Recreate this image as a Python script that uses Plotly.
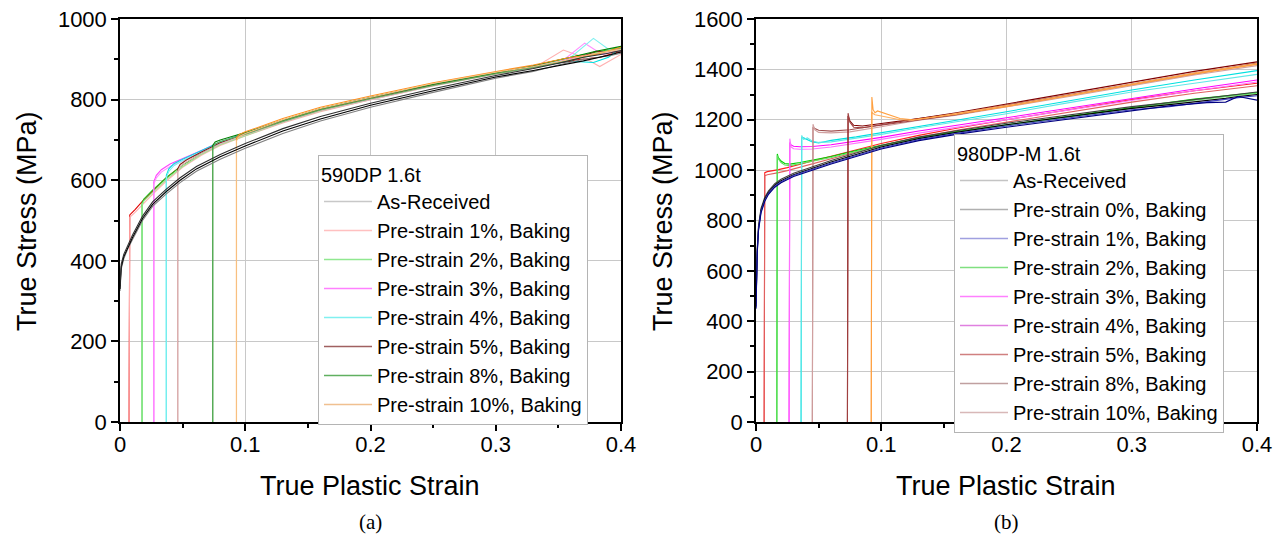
import plotly.graph_objects as go

# ---------------- 590DP 1.6t : true stress (MPa) vs true plastic strain ----------------
s590_ar = [0, 0.001, 0.003, 0.006, 0.01, 0.018, 0.026, 0.037, 0.048, 0.061, 0.08, 0.1, 0.13, 0.16, 0.2, 0.25, 0.3, 0.33, 0.35, 0.37, 0.39, 0.4]
ar590_a = [330, 385, 410, 432, 458, 505, 540, 572, 600, 628, 658, 685, 722, 752, 786, 822, 856, 872, 884, 896, 910, 918]
ar590_b = [340, 392, 416, 438, 464, 511, 546, 578, 606, 634, 664, 691, 728, 758, 791, 827, 860, 877, 890, 905, 915, 922]
ar590_c = [325, 380, 405, 428, 453, 500, 535, 566, 594, 622, 652, 679, 716, 747, 781, 818, 853, 870, 886, 900, 908, 915]

s590_p1 = [0.0072, 0.0072, 0.0078, 0.012, 0.018, 0.026, 0.037, 0.05, 0.065, 0.08, 0.1, 0.13, 0.16, 0.2, 0.25, 0.3, 0.33, 0.354, 0.37, 0.383, 0.4]
p1_590_a = [0, 500, 508, 520, 540, 565, 598, 632, 662, 686, 710, 742, 770, 800, 834, 865, 878, 923, 905, 882, 912]
p1_590_b = [0, 506, 514, 527, 548, 573, 606, 638, 667, 690, 714, 746, 774, 803, 836, 866, 880, 895, 900, 905, 920]

s590_p2 = [0.0176, 0.0176, 0.019, 0.026, 0.037, 0.05, 0.065, 0.08, 0.1, 0.13, 0.16, 0.2, 0.25, 0.3, 0.33, 0.36, 0.38, 0.4]
p2_590_a = [0, 538, 548, 570, 602, 634, 664, 688, 711, 744, 772, 801, 835, 864, 878, 898, 912, 925]
p2_590_b = [0, 544, 553, 575, 606, 638, 667, 691, 714, 747, 775, 804, 837, 866, 884, 905, 918, 930]

s590_p3 = [0.027, 0.027, 0.029, 0.033, 0.04, 0.05, 0.065, 0.08, 0.1, 0.13, 0.16, 0.2, 0.25, 0.3, 0.33, 0.355, 0.371, 0.385, 0.4]
p3_590_a = [0, 590, 606, 620, 634, 648, 670, 692, 714, 746, 774, 802, 836, 865, 880, 900, 940, 912, 922]
p3_590_b = [0, 596, 612, 626, 640, 653, 674, 695, 717, 749, 777, 805, 838, 867, 884, 898, 910, 915, 926]

s590_p4 = [0.037, 0.037, 0.039, 0.043, 0.05, 0.065, 0.08, 0.1, 0.13, 0.16, 0.2, 0.25, 0.3, 0.33, 0.36, 0.378, 0.39, 0.4]
p4_590_a = [0, 606, 622, 636, 648, 670, 692, 714, 746, 774, 802, 836, 865, 880, 905, 952, 925, 920]
p4_590_b = [0, 612, 628, 641, 652, 673, 695, 717, 749, 777, 805, 838, 867, 882, 895, 892, 905, 928]

s590_p5 = [0.046, 0.046, 0.048, 0.053, 0.065, 0.08, 0.1, 0.13, 0.16, 0.2, 0.25, 0.3, 0.33, 0.36, 0.38, 0.4]
p5_590_a = [0, 622, 634, 645, 666, 690, 712, 744, 772, 800, 834, 863, 878, 900, 912, 924]
p5_590_b = [0, 628, 639, 650, 670, 693, 715, 747, 775, 803, 836, 865, 882, 895, 920, 918]

s590_p8 = [0.074, 0.074, 0.076, 0.08, 0.09, 0.1, 0.13, 0.16, 0.2, 0.25, 0.3, 0.33, 0.36, 0.38, 0.4]
p8_590_a = [0, 680, 690, 696, 705, 714, 746, 774, 802, 835, 864, 880, 898, 915, 928]
p8_590_b = [0, 686, 695, 700, 709, 718, 749, 777, 805, 838, 866, 884, 905, 920, 932]

s590_p10 = [0.093, 0.093, 0.095, 0.1, 0.11, 0.13, 0.16, 0.2, 0.25, 0.3, 0.33, 0.36, 0.38, 0.4]
p10_590_a = [0, 698, 708, 716, 727, 750, 778, 806, 840, 868, 882, 900, 915, 925]
p10_590_b = [0, 704, 713, 720, 731, 753, 781, 809, 842, 870, 886, 905, 912, 930]

# ---------------- 980DP-M 1.6t ----------------
s980_ar = [0, 0.0005, 0.001, 0.002, 0.004, 0.007, 0.01, 0.015, 0.02, 0.03, 0.045, 0.06, 0.08, 0.1, 0.13, 0.16, 0.2, 0.25, 0.3, 0.33, 0.36, 0.375, 0.385, 0.4]
ar980_a = [460, 600, 680, 770, 840, 885, 912, 940, 958, 982, 1008, 1032, 1062, 1092, 1125, 1150, 1180, 1213, 1245, 1260, 1275, 1285, 1292, 1300]
ar980_b = [470, 610, 690, 780, 848, 892, 918, 946, 964, 988, 1014, 1038, 1068, 1098, 1131, 1156, 1186, 1220, 1252, 1268, 1285, 1295, 1300, 1310]
b0_980_a = [450, 590, 670, 760, 830, 876, 904, 932, 950, 975, 1000, 1024, 1054, 1084, 1117, 1142, 1170, 1203, 1238, 1255, 1268, 1270, 1292, 1278]
b0_980_b = [455, 595, 675, 765, 835, 880, 908, 936, 954, 979, 1004, 1028, 1058, 1088, 1121, 1146, 1175, 1208, 1240, 1252, 1272, 1282, 1288, 1295]

s980_p1 = [0.0065, 0.0065, 0.007, 0.009, 0.013, 0.018, 0.025, 0.035, 0.045, 0.06, 0.08, 0.1, 0.13, 0.16, 0.2, 0.25, 0.3, 0.35, 0.4]
p1_980_a = [0, 965, 978, 982, 985, 990, 998, 1012, 1025, 1045, 1072, 1098, 1130, 1158, 1190, 1232, 1270, 1305, 1335]
p1_980_b = [0, 975, 990, 994, 997, 1002, 1010, 1024, 1036, 1055, 1082, 1106, 1138, 1166, 1200, 1240, 1280, 1315, 1345]

s980_p2 = [0.0166, 0.0166, 0.017, 0.0178, 0.02, 0.023, 0.027, 0.035, 0.045, 0.06, 0.08, 0.1, 0.13, 0.16, 0.2, 0.25, 0.3, 0.35, 0.4]
p2_980_a = [0, 990, 1058, 1045, 1030, 1020, 1018, 1025, 1035, 1050, 1074, 1096, 1126, 1150, 1178, 1212, 1245, 1278, 1305]
p2_980_b = [0, 1000, 1064, 1050, 1036, 1026, 1024, 1030, 1040, 1054, 1078, 1099, 1129, 1153, 1181, 1215, 1248, 1282, 1308]

s980_p3 = [0.0264, 0.0264, 0.027, 0.028, 0.03, 0.035, 0.045, 0.06, 0.08, 0.1, 0.13, 0.16, 0.2, 0.25, 0.3, 0.35, 0.4]
p3_980_a = [0, 1000, 1125, 1092, 1085, 1083, 1084, 1092, 1106, 1122, 1147, 1170, 1200, 1240, 1278, 1315, 1350]
p3_980_b = [0, 1010, 1110, 1100, 1095, 1093, 1094, 1101, 1114, 1130, 1155, 1178, 1208, 1248, 1286, 1322, 1358]

s980_p4 = [0.036, 0.036, 0.0365, 0.038, 0.041, 0.045, 0.05, 0.06, 0.08, 0.1, 0.13, 0.16, 0.2, 0.25, 0.3, 0.35, 0.4]
p4_980_a = [0, 1050, 1138, 1122, 1128, 1115, 1110, 1112, 1126, 1142, 1168, 1192, 1224, 1268, 1310, 1345, 1380]
p4_980_b = [0, 1060, 1130, 1128, 1120, 1112, 1108, 1118, 1132, 1148, 1174, 1198, 1232, 1276, 1318, 1358, 1395]

s980_p5 = [0.045, 0.045, 0.0455, 0.047, 0.05, 0.06, 0.075, 0.1, 0.13, 0.16, 0.2, 0.25, 0.3, 0.35, 0.4]
p5_980_a = [0, 1080, 1182, 1160, 1150, 1148, 1152, 1172, 1198, 1218, 1250, 1292, 1335, 1378, 1415]
p5_980_b = [0, 1090, 1170, 1165, 1158, 1155, 1160, 1180, 1205, 1225, 1258, 1300, 1342, 1385, 1422]

s980_p8 = [0.073, 0.073, 0.0735, 0.075, 0.078, 0.085, 0.1, 0.13, 0.16, 0.2, 0.25, 0.3, 0.35, 0.4]
p8_980_a = [0, 1100, 1226, 1190, 1170, 1168, 1178, 1198, 1220, 1255, 1298, 1342, 1385, 1425]
p8_980_b = [0, 1110, 1215, 1195, 1178, 1175, 1184, 1205, 1228, 1262, 1305, 1350, 1392, 1430]

s980_p10 = [0.092, 0.092, 0.0925, 0.0935, 0.095, 0.097, 0.105, 0.115, 0.125, 0.16, 0.2, 0.25, 0.3, 0.35, 0.4]
p10_980_a = [0, 1150, 1290, 1240, 1228, 1235, 1222, 1205, 1200, 1222, 1252, 1295, 1340, 1382, 1420]
p10_980_b = [0, 1160, 1230, 1225, 1220, 1218, 1210, 1200, 1198, 1225, 1256, 1298, 1342, 1385, 1423]

# legend entries: (label, key colour)
legend_590 = [
    ("As-Received", "#C8C8C8"),
    ("Pre-strain 1%, Baking", "#FFC0C0"),
    ("Pre-strain 2%, Baking", "#90E890"),
    ("Pre-strain 3%, Baking", "#FF80FF"),
    ("Pre-strain 4%, Baking", "#80F0F0"),
    ("Pre-strain 5%, Baking", "#A06060"),
    ("Pre-strain 8%, Baking", "#60B060"),
    ("Pre-strain 10%, Baking", "#F0C090"),
]
legend_980 = [
    ("As-Received", "#C4C4C4"),
    ("Pre-strain 0%, Baking", "#B0B0B0"),
    ("Pre-strain 1%, Baking", "#A0A0E0"),
    ("Pre-strain 2%, Baking", "#80E080"),
    ("Pre-strain 3%, Baking", "#FF80FF"),
    ("Pre-strain 4%, Baking", "#E080E0"),
    ("Pre-strain 5%, Baking", "#D08080"),
    ("Pre-strain 8%, Baking", "#C0A0A0"),
    ("Pre-strain 10%, Baking", "#D8B8B8"),
]

# specimen curves: (strain, stress, colour)
curves_590 = [
    (s590_p1, p1_590_b, "#E00000"), (s590_p1, p1_590_a, "#FFB0B0"),
    (s590_p2, p2_590_b, "#20C020"), (s590_p2, p2_590_a, "#90EE90"),
    (s590_p3, p3_590_b, "#FF40FF"), (s590_p3, p3_590_a, "#FF90FF"),
    (s590_p4, p4_590_b, "#00E0E0"), (s590_p4, p4_590_a, "#80F0F0"),
    (s590_p5, p5_590_b, "#8B1A1A"), (s590_p5, p5_590_a, "#E0B8B8"),
    (s590_p8, p8_590_b, "#008000"), (s590_p8, p8_590_a, "#60B060"),
    (s590_p10, p10_590_b, "#FF9020"), (s590_p10, p10_590_a, "#F8C080"),
    (s590_ar, ar590_c, "#808080"), (s590_ar, ar590_a, "#000000"), (s590_ar, ar590_b, "#303030"),
]
curves_980 = [
    (s980_p1, p1_980_b, "#FF2020"), (s980_p1, p1_980_a, "#E06060"),
    (s980_p2, p2_980_b, "#00D000"), (s980_p2, p2_980_a, "#60E060"),
    (s980_p3, p3_980_b, "#FF00FF"), (s980_p3, p3_980_a, "#FF70FF"),
    (s980_p4, p4_980_b, "#00E0E0"), (s980_p4, p4_980_a, "#60E8E8"),
    (s980_p5, p5_980_b, "#A05050"), (s980_p5, p5_980_a, "#D0A0A0"),
    (s980_p8, p8_980_b, "#800000"), (s980_p8, p8_980_a, "#A04040"),
    (s980_p10, p10_980_b, "#FFB060"), (s980_p10, p10_980_a, "#FFA040"),
    (s980_ar, ar980_b, "#404040"), (s980_ar, ar980_a, "#000000"),
    (s980_ar, b0_980_b, "#4040C0"), (s980_ar, b0_980_a, "#000080"),
]

FONT = "Liberation Sans, Arial, sans-serif"
W, H = 1283, 540

fig = go.Figure()

for xs, ys, col in curves_590:
    fig.add_trace(go.Scatter(x=xs, y=ys, mode="lines", line=dict(color=col, width=1.1),
                             xaxis="x", yaxis="y", showlegend=False, hoverinfo="skip"))
for xs, ys, col in curves_980:
    fig.add_trace(go.Scatter(x=xs, y=ys, mode="lines", line=dict(color=col, width=1.1),
                             xaxis="x2", yaxis="y2", showlegend=False, hoverinfo="skip"))

for name, col in legend_590:
    fig.add_trace(go.Scatter(x=[None], y=[None], mode="lines", name=name, line=dict(color=col, width=1.5),
                             xaxis="x", yaxis="y", legend="legend"))
for name, col in legend_980:
    fig.add_trace(go.Scatter(x=[None], y=[None], mode="lines", name=name, line=dict(color=col, width=1.5),
                             xaxis="x2", yaxis="y2", legend="legend2"))

ydom = [1 - 422 / H, 1 - 19 / H]
dom_a = [120 / W, 621 / W]
dom_b = [756 / W, 1257 / W]


def main_x(dom, anchor):
    return dict(domain=dom, anchor=anchor, range=[0, 0.4], tick0=0, dtick=0.1, automargin=False,
                ticks="outside", ticklen=7, tickwidth=1.5, tickcolor="black", ticklabelstandoff=-5,
                minor=dict(ticks="outside", dtick=0.05, ticklen=4, tickwidth=1.5, tickcolor="black", showgrid=False),
                showline=True, linecolor="black", linewidth=1.5, mirror=True,
                showgrid=True, gridcolor="#C8C8C8", gridwidth=1, zeroline=False,
                tickfont=dict(family=FONT, size=22, color="black"))


def main_y(dom, anchor, top):
    return dict(domain=dom, anchor=anchor, range=[0, top], tick0=0, dtick=200, automargin=False,
                ticks="outside", ticklen=7, tickwidth=1.5, tickcolor="black",
                minor=dict(ticks="outside", dtick=100, ticklen=4, tickwidth=1.5, tickcolor="black", showgrid=False),
                showline=True, linecolor="black", linewidth=1.5, mirror=True,
                showgrid=True, gridcolor="#C8C8C8", gridwidth=1, zeroline=False,
                tickfont=dict(family=FONT, size=22, color="black"))


def top_x(over, anchor):
    return dict(overlaying=over, anchor=anchor, side="top", range=[0, 0.4], tick0=0, dtick=0.1, automargin=False,
                ticks="inside", ticklen=7, tickwidth=1.5, tickcolor="black",
                minor=dict(ticks="inside", dtick=0.05, ticklen=4, tickwidth=1.5, tickcolor="black", showgrid=False),
                showticklabels=False, showgrid=False, showline=False, zeroline=False)


def right_y(over, anchor, top):
    return dict(overlaying=over, anchor=anchor, side="right", range=[0, top], tick0=0, dtick=200, automargin=False,
                ticks="inside", ticklen=7, tickwidth=1.5, tickcolor="black",
                minor=dict(ticks="inside", dtick=100, ticklen=4, tickwidth=1.5, tickcolor="black", showgrid=False),
                showticklabels=False, showgrid=False, showline=False, zeroline=False)


legend_common = dict(xanchor="left", yanchor="top", bgcolor="white", bordercolor="#B4B4B4", borderwidth=1,
                     font=dict(family=FONT, size=20, color="black"), tracegroupgap=0, itemclick=False,
                     itemwidth=48)

fig.update_layout(
    width=W, height=H, margin=dict(l=0, r=0, t=0, b=0, pad=0, autoexpand=False),
    paper_bgcolor="white", plot_bgcolor="white",
    font=dict(family=FONT, color="black"),
    xaxis=main_x(dom_a, "y"), yaxis=main_y(ydom, "x", 1000),
    xaxis2=main_x(dom_b, "y2"), yaxis2=main_y(ydom, "x2", 1600),
    xaxis3=top_x("x", "y"), yaxis3=right_y("y", "x", 1000),
    xaxis4=top_x("x2", "y2"), yaxis4=right_y("y2", "x2", 1600),
    legend=dict(x=318 / W, y=1 - 155 / H, title=dict(text="590DP 1.6t", font=dict(family=FONT, size=20)), **legend_common),
    legend2=dict(x=954 / W, y=1 - 134 / H, title=dict(text="980DP-M 1.6t", font=dict(family=FONT, size=20)), **legend_common),
)

# axis titles and panel captions
ann = []
for cx in (370, 1006):
    ann.append(dict(x=cx / W, y=1 - 486 / H, xref="paper", yref="paper", xanchor="center", yanchor="middle",
                    text="True Plastic Strain", showarrow=False, font=dict(family=FONT, size=27, color="black")))
for cx in (27, 663):
    ann.append(dict(x=cx / W, y=1 - 221 / H, xref="paper", yref="paper", xanchor="center", yanchor="middle",
                    text="True Stress (MPa)", textangle=-90, showarrow=False,
                    font=dict(family=FONT, size=27, color="black")))
for cx, lab in ((370, "(a)"), (1006, "(b)")):
    ann.append(dict(x=cx / W, y=1 - 522 / H, xref="paper", yref="paper", xanchor="center", yanchor="middle",
                    text=lab, showarrow=False, font=dict(family="Liberation Serif, serif", size=21, color="black")))
fig.update_layout(annotations=ann)

fig.write_html("out.html")
